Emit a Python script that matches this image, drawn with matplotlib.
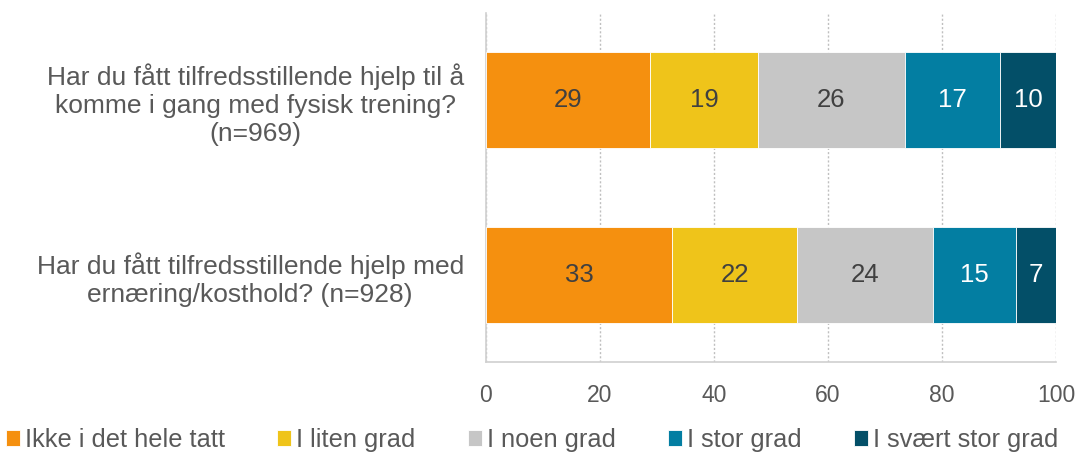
import matplotlib.pyplot as plt
import numpy as np

plt.rcParams['font.family'] = ['Liberation Sans', 'DejaVu Sans']

# data
questions = [
    "Har du fått tilfredsstillende hjelp til å\nkomme i gang med fysisk trening?\n(n=969)",
    "Har du fått tilfredsstillende hjelp med\nernæring/kosthold? (n=928)",
]
series = ["Ikke i det hele tatt", "I liten grad", "I noen grad", "I stor grad", "I svært stor grad"]
values = np.array([
    [28.8, 18.9, 25.8, 16.7, 9.8],
    [32.6, 22.0, 23.8, 14.6, 7.0],
])
colors = ["#F5900F", "#EFC41A", "#C6C6C6", "#037EA2", "#034F68"]
label_colors = ["#404040", "#404040", "#404040", "white", "white"]
xticks = [0, 20, 40, 60, 80, 100]

fig = plt.figure(figsize=(10.77, 4.53), dpi=100)
ax = fig.add_axes([486 / 1077, 1 - 362 / 453, 570 / 1077, 349 / 453])

ypos = np.arange(len(questions))
left = np.zeros(len(questions))
for i, name in enumerate(series):
    bars = ax.barh(ypos, values[:, i], left=left, height=0.55, color=colors[i],
                   edgecolor="white", linewidth=0.6, label=name, zorder=3)
    for j, b in enumerate(bars):
        ax.text(left[j] + values[j, i] / 2, ypos[j], f"{values[j, i]:.0f}",
                ha="center", va="center", fontsize=18.5, color=label_colors[i], zorder=4)
    left += values[:, i]

ax.set_xlim(0, 100)
ax.set_ylim(len(questions) - 0.5, -0.5)
ax.set_yticks(ypos)
ax.set_yticklabels(questions, fontsize=19, color="#595959", multialignment="center", linespacing=1.22)
ax.set_xticks(xticks)
ax.set_xticklabels([str(t) for t in xticks], fontsize=16.5, color="#595959")
ax.tick_params(axis="both", length=0)
ax.tick_params(axis="x", pad=16)
ax.tick_params(axis="y", pad=16)
ax.xaxis.grid(True, linestyle=(0, (1.5, 1.5)), color="#BFBFBF", linewidth=1, zorder=0)
for s in ["top", "right"]:
    ax.spines[s].set_visible(False)
for s in ["left", "bottom"]:
    ax.spines[s].set_color("#D0D0D0")
    ax.spines[s].set_linewidth(1.2)

fig.legend(loc="lower center", bbox_to_anchor=(0.494, -0.048), ncol=5, frameon=False,
           fontsize=18.3, labelcolor="#595959", handlelength=0.55, handleheight=0.55,
           handletextpad=0.2, columnspacing=2.05)

fig.savefig("out.png", dpi=100)
